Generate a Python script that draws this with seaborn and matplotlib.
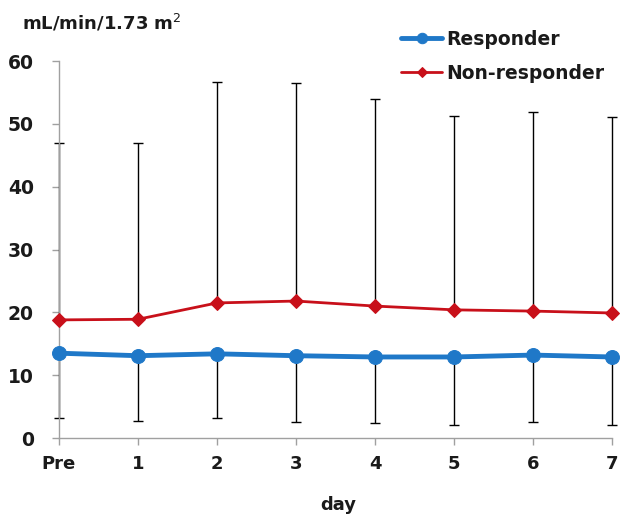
import matplotlib
matplotlib.use("Agg")
import matplotlib.pyplot as plt
import numpy as np
import pandas as pd
import seaborn as sns

# days and values
days = ["Pre", "1", "2", "3", "4", "5", "6", "7"]
responder_mean = [13.5, 13.1, 13.4, 13.1, 12.9, 12.9, 13.2, 12.9]
responder_sd = [10.3, 10.4, 10.2, 10.6, 10.5, 10.8, 10.7, 10.8]
nonresp_mean = [18.8, 18.9, 21.5, 21.8, 21.0, 20.4, 20.2, 19.9]
nonresp_sd = [28.2, 28.1, 35.2, 34.7, 33.0, 30.9, 31.7, 31.2]

blue = "#1f78c8"
red = "#c8101a"

sns.set_style("white")
plt.rcParams["font.family"] = ["DejaVu Sans"]

df = pd.DataFrame(
    {
        "pos": list(range(len(days))) * 2,
        "value": responder_mean + nonresp_mean,
        "group": ["Responder"] * len(days) + ["Non-responder"] * len(days),
    }
)

fig = plt.figure(figsize=(6.21, 5.18), dpi=100, facecolor="w")
ax = fig.add_axes([0.095, 0.1544, 0.8905, 0.7278])

pos = np.arange(len(days))

# error bars: responder downward, non-responder upward
ax.errorbar(
    pos,
    responder_mean,
    yerr=[responder_sd, [0] * len(days)],
    fmt="none",
    ecolor="black",
    elinewidth=1,
    capsize=3.5,
    capthick=1,
    zorder=1,
    clip_on=False,
)
ax.errorbar(
    pos,
    nonresp_mean,
    yerr=[[0] * len(days), nonresp_sd],
    fmt="none",
    ecolor="black",
    elinewidth=1,
    capsize=3.5,
    capthick=1,
    zorder=1,
    clip_on=False,
)

sns.lineplot(
    data=df[df["group"] == "Responder"],
    x="pos",
    y="value",
    color=blue,
    linewidth=3.5,
    marker="o",
    markersize=10,
    markeredgecolor=blue,
    label="Responder",
    ax=ax,
    clip_on=False,
    zorder=3,
)
sns.lineplot(
    data=df[df["group"] == "Non-responder"],
    x="pos",
    y="value",
    color=red,
    linewidth=2,
    marker="D",
    markersize=7,
    markeredgecolor=red,
    label="Non-responder",
    ax=ax,
    clip_on=False,
    zorder=3,
)

ax.set_xlim(0, 7)
ax.set_ylim(0, 60)
ax.set_xticks(pos)
ax.set_xticklabels(days)
ax.set_yticks([0, 10, 20, 30, 40, 50, 60])
ax.set_xlabel("")
ax.set_ylabel("")

for side in ["top", "right"]:
    ax.spines[side].set_visible(False)
for side in ["left", "bottom"]:
    ax.spines[side].set_color("#a0a0a0")
    ax.spines[side].set_linewidth(1)

ax.tick_params(
    axis="both",
    which="major",
    labelsize=13,
    length=5,
    width=1,
    color="#a0a0a0",
    labelcolor="#1a1a1a",
    bottom=True,
    left=True,
)
ax.tick_params(axis="x", pad=7)
ax.tick_params(axis="y", pad=13, labelsize=13.5)
for lbl in ax.get_xticklabels() + ax.get_yticklabels():
    lbl.set_fontweight("bold")

fig.text(0.035, 0.955, "mL/min/1.73 m$^2$", fontsize=13, fontweight="bold",
         color="#1a1a1a", ha="left", va="center")
fig.text(0.545, 0.025, "day", fontsize=13, fontweight="bold",
         color="#1a1a1a", ha="center", va="center")

leg = ax.legend(
    loc="center left",
    bbox_to_anchor=(0.588, 1.012),
    frameon=False,
    handlelength=2.2,
    handletextpad=0.2,
    labelspacing=0.8,
    markerscale=0.75,
    prop={"size": 13.5, "weight": "bold"},
)
for t in leg.get_texts():
    t.set_color("#1a1a1a")

fig.savefig("out.png", dpi=100, facecolor="w")
